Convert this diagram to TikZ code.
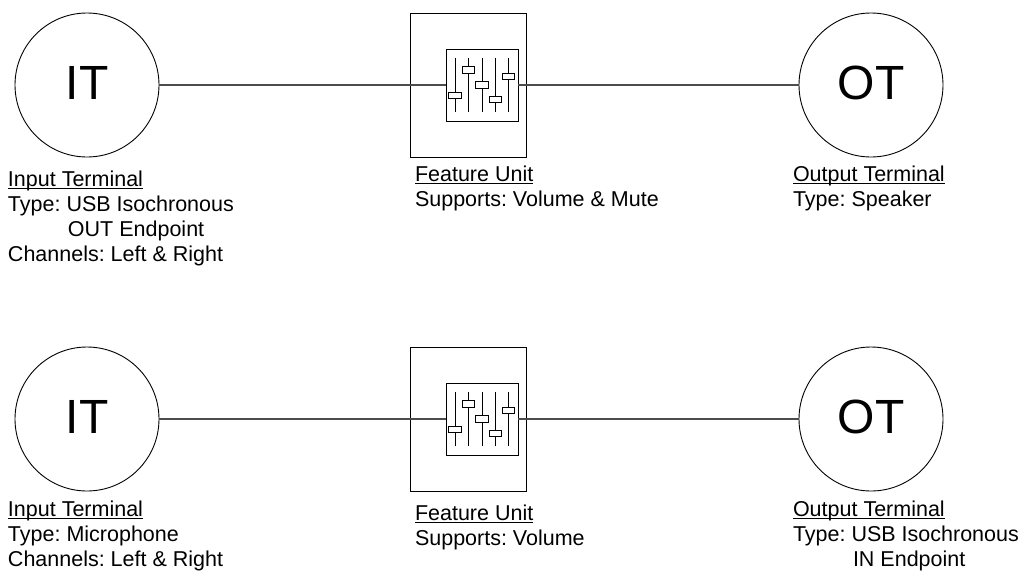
\documentclass[tikz,border=0pt]{standalone}
\usepackage{fontspec}
\setmainfont{Liberation Sans}
\newsavebox{\ulinebox}
\newcommand{\ulin}[1]{\sbox{\ulinebox}{#1}\rlap{\rule[-2.6pt]{\wd\ulinebox}{1.1pt}}\usebox{\ulinebox}}
\tikzset{
  x=1pt,y=-1pt,
  term/.style={draw,circle,line width=0.9pt,minimum size=144pt,inner sep=0pt,font=\fontsize{48}{48}\selectfont},
  fubox/.style={draw,line width=0.9pt,minimum width=116pt,minimum height=144pt,inner sep=0pt},
  fuinner/.style={draw,line width=0.9pt,minimum width=72pt,minimum height=72pt,inner sep=0pt},
  wire/.style={draw=black!70,line width=1.1pt},
  label/.style={anchor=north west,align=left,inner sep=0pt,outer sep=0pt,font=\fontsize{21.5}{25}\selectfont\frenchspacing},
  slider/.style={line width=0.9pt},
  knob/.style={draw,fill=white,line width=0.9pt,minimum width=12.3pt,minimum height=6.4pt,inner sep=0pt}
}
\newcommand{\unit}[2]{%
  \node[fubox] (fu#1) at (468,#2) {};
  \node[fuinner] (in#1) at (482,#2) {};
  \foreach \i/\sx/\ky in {a/455/10.5,b/468.3/-15,c/482/0,d/495.3/14.5,e/508.7/-8.5}{
    \coordinate (t\i#1) at (\sx,#2-27);
    \coordinate (b\i#1) at (\sx,#2+27);
    \draw[slider] (t\i#1) -- (b\i#1);
    \node[knob] (k\i#1) at (\sx,#2+\ky) {};
  }
}
\begin{document}
\begin{tikzpicture}
\useasboundingbox (0,0) rectangle (1021,571);
\node[term] (it1) at (87,85) {\raisebox{4pt}{IT}};
\node[term] (ot1) at (871,85) {\raisebox{4pt}{OT}};
\unit{1}{85}
\draw[wire] (it1) -- (in1);
\draw[wire] (in1) -- (ot1);
\node[term] (it2) at (87,419) {\raisebox{4pt}{IT}};
\node[term] (ot2) at (871,419) {\raisebox{4pt}{OT}};
\unit{2}{419}
\draw[wire] (it2) -- (in2);
\draw[wire] (in2) -- (ot2);
\node[label] (l1) at (8,170.5) {\ulin{Input Terminal}\\Type: USB Isochronous\\\hspace{60pt}OUT Endpoint\\Channels: Left \& Right};
\node[label] (l2) at (415,166) {\ulin{Feature Unit}\\Supports: Volume \& Mute};
\node[label] (l3) at (793,165.5) {\ulin{Output Terminal}\\Type: Speaker};
\node[label] (l4) at (8,501) {\ulin{Input Terminal}\\Type: Microphone\\Channels: Left \& Right};
\node[label] (l5) at (415,505) {\ulin{Feature Unit}\\Supports: Volume};
\node[label] (l6) at (793,500.5) {\ulin{Output Terminal}\\Type: USB Isochronous\\\hspace{60pt}IN Endpoint};
\end{tikzpicture}
\end{document}
